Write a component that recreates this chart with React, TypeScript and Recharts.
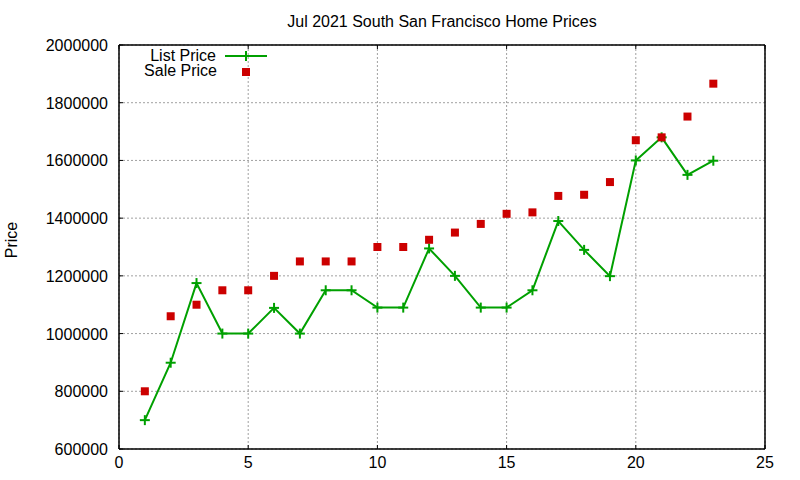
import React from 'react'
import { ComposedChart, Line, Scatter, XAxis, YAxis, CartesianGrid } from 'recharts'

// Monthly index (1..23) with list and sale prices
const months = [1, 2, 3, 4, 5, 6, 7, 8, 9, 10, 11, 12, 13, 14, 15, 16, 17, 18, 19, 20, 21, 22, 23]
const listPrice = [
  700000, 899000, 1175000, 1000000, 1000000, 1089000, 1000000, 1150000, 1150000, 1090000, 1090000, 1295000,
  1200000, 1090000, 1090000, 1150000, 1390000, 1290000, 1199000, 1600000, 1680000, 1550000, 1599000,
]
const salePrice = [
  800000, 1060000, 1100000, 1150000, 1150000, 1200000, 1250000, 1250000, 1250000, 1300000, 1300000, 1325000,
  1350000, 1380000, 1415000, 1420000, 1477000, 1481000, 1525000, 1670000, 1680000, 1752000, 1866000,
]
const xTicks = [0, 5, 10, 15, 20, 25]
const yTicks = [600000, 800000, 1000000, 1200000, 1400000, 1600000, 1800000, 2000000]

const data = months.map((m, i) => ({ month: m, list: listPrice[i], sale: salePrice[i] }))

const FONT = '"Liberation Sans", Arial, sans-serif'
const GREEN = '#00a000'
const RED = '#cc0000'

const PlusDot = (props: any) => {
  const { cx, cy } = props
  if (cx == null || cy == null) return null
  return (
    <g>
      <line x1={cx - 5} y1={cy} x2={cx + 5} y2={cy} stroke={GREEN} strokeWidth={2} />
      <line x1={cx} y1={cy - 5} x2={cx} y2={cy + 5} stroke={GREEN} strokeWidth={2} />
    </g>
  )
}

const SquareDot = (props: any) => {
  const { cx, cy } = props
  if (cx == null || cy == null) return null
  return <rect x={cx - 4} y={cy - 4} width={8} height={8} fill={RED} />
}

const LeftTick = ({ x, y, payload }: any) => (
  <g>
    <line x1={x} y1={y} x2={x + 4} y2={y} stroke="#000" strokeWidth={1} />
    <text x={x - 11} y={y + 6} textAnchor="end" fontSize={16} fontFamily={FONT} fill="#000">
      {payload.value}
    </text>
  </g>
)

const RightTick = ({ x, y }: any) => (
  <line x1={x - 4} y1={y} x2={x} y2={y} stroke="#000" strokeWidth={1} />
)

const BottomTick = ({ x, y, payload }: any) => (
  <g>
    <line x1={x} y1={y} x2={x} y2={y - 4} stroke="#000" strokeWidth={1} />
    <text x={x} y={y + 19} textAnchor="middle" fontSize={16} fontFamily={FONT} fill="#000">
      {payload.value}
    </text>
  </g>
)

const TopTick = ({ x, y }: any) => (
  <line x1={x} y1={y} x2={x} y2={y + 4} stroke="#000" strokeWidth={1} />
)

// gnuplot-style key in the top-left corner of the plot
const Key = () => (
  <g>
    <text x={216} y={61} textAnchor="end" fontSize={16} fontFamily={FONT} fill="#000">List Price</text>
    <line x1={225} y1={56} x2={267} y2={56} stroke={GREEN} strokeWidth={2} />
    <line x1={241} y1={56} x2={251} y2={56} stroke={GREEN} strokeWidth={2} />
    <line x1={246} y1={51} x2={246} y2={61} stroke={GREEN} strokeWidth={2} />
    <text x={217} y={76} textAnchor="end" fontSize={16} fontFamily={FONT} fill="#000">Sale Price</text>
    <rect x={242} y={68} width={8} height={8} fill={RED} />
  </g>
)

export default function App() {
  return (
    <div style={{ position: 'absolute', left: 0, top: 0, width: 800, height: 480, background: '#fff', fontFamily: FONT }}>
      <ComposedChart width={800} height={480} data={data} margin={{ top: 0, right: 0, bottom: 0, left: 0 }}>
        <CartesianGrid xAxisId="b" yAxisId="l" stroke="#a0a0a0" strokeDasharray="2 2" strokeWidth={1} />
        <XAxis
          xAxisId="b"
          dataKey="month"
          type="number"
          domain={[0, 25]}
          ticks={xTicks}
          height={31}
          tickSize={0}
          tickMargin={0}
          tickLine={false}
          tick={<BottomTick />}
          axisLine={{ stroke: '#000', strokeWidth: 1.5 }}
          interval={0}
        />
        <XAxis
          xAxisId="t"
          dataKey="month"
          type="number"
          orientation="top"
          domain={[0, 25]}
          ticks={xTicks}
          height={45}
          tickSize={0}
          tickMargin={0}
          tickLine={false}
          tick={<TopTick />}
          axisLine={{ stroke: '#000', strokeWidth: 1.5 }}
          interval={0}
        />
        <YAxis
          yAxisId="l"
          type="number"
          domain={[600000, 2000000]}
          ticks={yTicks}
          width={119}
          tickSize={0}
          tickMargin={0}
          tickLine={false}
          tick={<LeftTick />}
          axisLine={{ stroke: '#000', strokeWidth: 1.5 }}
          interval={0}
        />
        <YAxis
          yAxisId="r"
          orientation="right"
          type="number"
          domain={[600000, 2000000]}
          ticks={yTicks}
          width={35}
          tickSize={0}
          tickMargin={0}
          tickLine={false}
          tick={<RightTick />}
          axisLine={{ stroke: '#000', strokeWidth: 1.5 }}
          interval={0}
        />
        <Line
          xAxisId="b"
          yAxisId="l"
          type="linear"
          dataKey="list"
          name="List Price"
          stroke={GREEN}
          strokeWidth={2}
          dot={<PlusDot />}
          activeDot={false}
          isAnimationActive={false}
        />
        <Scatter
          xAxisId="b"
          yAxisId="l"
          dataKey="sale"
          name="Sale Price"
          fill={RED}
          shape={<SquareDot />}
          isAnimationActive={false}
        />
        <Key />
        <text x={442} y={27} textAnchor="middle" fontSize={16} fontFamily={FONT} fill="#000">
          Jul 2021 South San Francisco Home Prices
        </text>
        <text
          x={17}
          y={240}
          transform="rotate(-90 17 240)"
          textAnchor="middle"
          fontSize={16}
          fontFamily={FONT}
          fill="#000"
        >
          Price
        </text>
      </ComposedChart>
    </div>
  )
}
